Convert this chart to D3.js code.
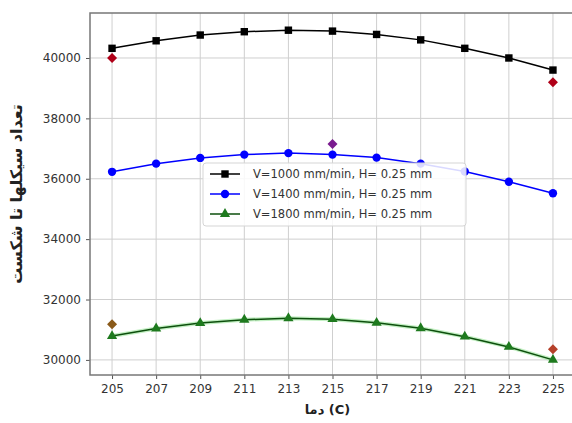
<!DOCTYPE html>
<html>
<head>
<meta charset="utf-8">
<script src="https://cdn.jsdelivr.net/npm/d3@7"></script>
<style>
  body { margin: 0; background: #fff; }
  svg { font-family: "DejaVu Sans", sans-serif; }
</style>
</head>
<body>
<script>
// temperatures (C)
var temps = [205, 207, 209, 211, 213, 215, 217, 219, 221, 223, 225];
var v1000 = [40320, 40570, 40760, 40870, 40920, 40890, 40780, 40600, 40320, 40000, 39600];
var v1400 = [36230, 36500, 36690, 36800, 36850, 36800, 36700, 36500, 36240, 35900, 35520];
var v1800 = [30790, 31040, 31220, 31330, 31380, 31350, 31230, 31050, 30770, 30430, 30000];
// experimental points
var expT = [205, 225, 215, 205, 225];
var expN = [40000, 39200, 37150, 31180, 30350];
var expColor = ["#b00018", "#b00018", "#7a1b8f", "#8a5a1a", "#b5402a"];
var yTicks = [30000, 32000, 34000, 36000, 38000, 40000];
var legendLabels = ["V=1000 mm/min, H= 0.25 mm", "V=1400 mm/min, H= 0.25 mm", "V=1800 mm/min, H= 0.25 mm"];

function main() {
  var width = 572, height = 423;
  var left = 90, right = 575, top = 13, bottom = 375;

  var svg = d3.select("body").append("svg")
    .attr("width", width)
    .attr("height", height);

  var x = d3.scaleLinear().domain([204, 226]).range([left, right]);
  var y = d3.scaleLinear().domain([29500, 41490]).range([bottom, top]);

  // grid
  svg.append("g").selectAll("line").data(temps).enter().append("line")
    .attr("x1", d => x(d)).attr("x2", d => x(d))
    .attr("y1", top).attr("y2", bottom)
    .attr("stroke", "#cfcfcf").attr("stroke-width", 1);
  svg.append("g").selectAll("line").data(yTicks).enter().append("line")
    .attr("x1", left).attr("x2", right)
    .attr("y1", d => y(d)).attr("y2", d => y(d))
    .attr("stroke", "#cfcfcf").attr("stroke-width", 1);

  // axes
  var xAxis = svg.append("g")
    .attr("transform", "translate(0," + bottom + ")")
    .call(d3.axisBottom(x).tickValues(temps).tickSize(4).tickPadding(5));
  var yAxis = svg.append("g")
    .attr("transform", "translate(" + left + ",0)")
    .call(d3.axisLeft(y).tickValues(yTicks).tickSize(4).tickPadding(5).tickFormat(d3.format("d")));
  [xAxis, yAxis].forEach(function (a) {
    a.select(".domain").remove();
    a.selectAll("line").attr("stroke", "#555");
    a.selectAll("text").attr("fill", "#333").attr("font-size", 12)
      .attr("font-family", "DejaVu Sans, sans-serif");
  });

  // frame
  svg.append("rect")
    .attr("x", left).attr("y", top)
    .attr("width", right - left).attr("height", bottom - top)
    .attr("fill", "none").attr("stroke", "#777").attr("stroke-width", 1.5);

  var line = d3.line().x(d => x(d[0])).y(d => y(d[1]));

  var series = [
    { vals: v1000, line: "#000", mark: "#000", shape: d3.symbolSquare, size: 55 },
    { vals: v1400, line: "#0000ff", mark: "#0000ff", shape: d3.symbolCircle, size: 55 },
    { vals: v1800, line: "#0d4f0d", mark: "#1e7a1e", shape: d3.symbolTriangle, size: 45 }
  ];

  series.forEach(function (s) {
    var pts = temps.map((t, i) => [t, s.vals[i]]);
    if (s.shape === d3.symbolTriangle) {
      svg.append("path").attr("d", line(pts)).attr("fill", "none")
        .attr("stroke", "#9be69b").attr("stroke-width", 4).attr("opacity", 0.6);
    }
    svg.append("path").attr("d", line(pts)).attr("fill", "none")
      .attr("stroke", s.line).attr("stroke-width", 1.5);
    svg.append("g").selectAll("path").data(pts).enter().append("path")
      .attr("d", d3.symbol().type(s.shape).size(s.size))
      .attr("transform", d => "translate(" + x(d[0]) + "," + y(d[1]) + ")")
      .attr("fill", s.mark);
  });

  // experimental diamonds (rotated squares)
  svg.append("g").selectAll("path").data(expT).enter().append("path")
    .attr("d", d3.symbol().type(d3.symbolSquare).size(50))
    .attr("transform", (d, i) => "translate(" + x(d) + "," + y(expN[i]) + ") rotate(45)")
    .attr("fill", (d, i) => expColor[i]);

  // legend
  var lg = svg.append("g").attr("transform", "translate(203,163)");
  lg.append("rect").attr("width", 263).attr("height", 63).attr("rx", 3)
    .attr("fill", "#fff").attr("fill-opacity", 0.85)
    .attr("stroke", "#d5d5d5");
  legendLabels.forEach(function (lab, i) {
    var s = series[i];
    var ly = 11 + i * 20;
    lg.append("line").attr("x1", 7).attr("x2", 37).attr("y1", ly).attr("y2", ly)
      .attr("stroke", s.line).attr("stroke-width", 1.5);
    lg.append("path").attr("d", d3.symbol().type(s.shape).size(s.size))
      .attr("transform", "translate(22," + ly + ")").attr("fill", s.mark);
    lg.append("text").attr("x", 50).attr("y", ly).attr("dy", "0.35em")
      .attr("font-size", 11.5).attr("fill", "#333").text(lab);
  });

  // axis labels
  svg.append("text")
    .attr("x", (left + 565) / 2).attr("y", 414)
    .attr("text-anchor", "middle").attr("font-size", 13).attr("font-weight", "bold")
    .attr("fill", "#222")
    .text("دما (C)");
  svg.append("text")
    .attr("transform", "translate(22," + (top + bottom) / 2 + ") rotate(-90)")
    .attr("text-anchor", "middle").attr("font-size", 16).attr("font-weight", "bold")
    .attr("fill", "#222")
    .text("تعداد سیکلها تا شکست");
}
main();
</script>
</body>
</html>
